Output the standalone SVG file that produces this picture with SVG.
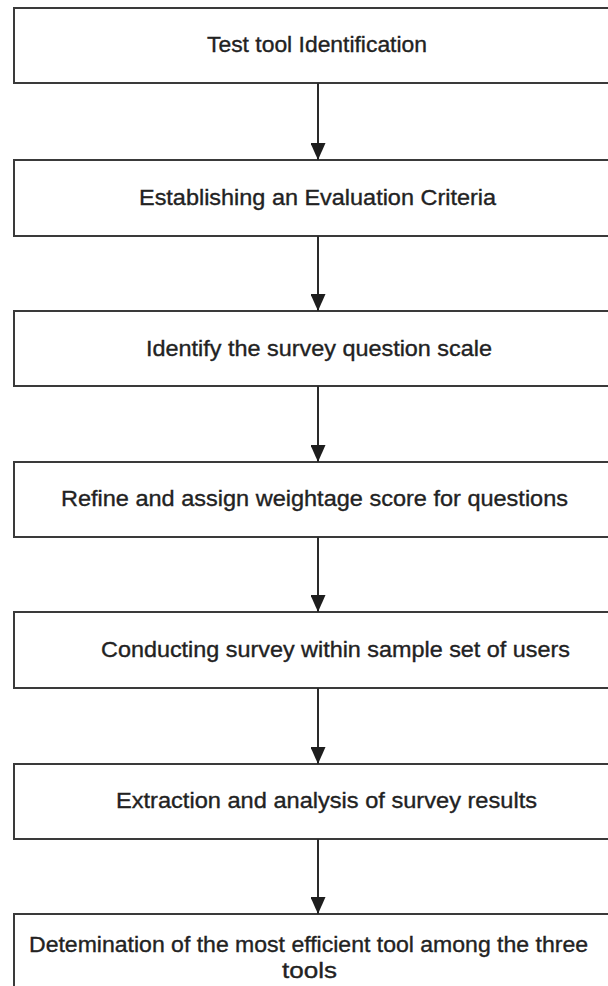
<svg xmlns="http://www.w3.org/2000/svg" width="608" height="986" viewBox="0 0 608 986">
  <style>
    .box { fill: #ffffff; stroke: #3a3a3a; stroke-width: 2; }
    .lbl { font-family: "Liberation Sans", Arial, sans-serif; font-size: 22px; fill: #222222; stroke: #222222; stroke-width: 0.35; }
    .conn { stroke: #2a2a2a; stroke-width: 2; fill: none; }
  </style>
  <defs>
    <marker id="arrow" markerUnits="userSpaceOnUse" markerWidth="17" markerHeight="15" viewBox="0 0 17 15" refX="17" refY="7.5" orient="auto">
      <path d="M0,0 L17,7.5 L0,15 Z" fill="#1e1e1e"/>
    </marker>
  </defs>
  <rect width="608" height="986" fill="#ffffff"/>

  <g id="node1">
    <rect class="box" x="14" y="8" width="620" height="75"/>
    <text class="lbl" x="207" y="52" textLength="220" lengthAdjust="spacingAndGlyphs">Test tool Identification</text>
  </g>
  <g id="node2">
    <rect class="box" x="14" y="160" width="620" height="76"/>
    <text class="lbl" x="139" y="205" textLength="357" lengthAdjust="spacingAndGlyphs">Establishing an Evaluation Criteria</text>
  </g>
  <g id="node3">
    <rect class="box" x="14" y="311" width="620" height="75"/>
    <text class="lbl" x="146" y="356" textLength="346" lengthAdjust="spacingAndGlyphs">Identify the survey question scale</text>
  </g>
  <g id="node4">
    <rect class="box" x="14" y="462" width="620" height="75"/>
    <text class="lbl" x="61" y="506" textLength="507" lengthAdjust="spacingAndGlyphs">Refine and assign weightage score for questions</text>
  </g>
  <g id="node5">
    <rect class="box" x="14" y="612" width="620" height="76"/>
    <text class="lbl" x="101" y="657" textLength="469" lengthAdjust="spacingAndGlyphs">Conducting survey within sample set of users</text>
  </g>
  <g id="node6">
    <rect class="box" x="14" y="764" width="620" height="75"/>
    <text class="lbl" x="116" y="808" textLength="421" lengthAdjust="spacingAndGlyphs">Extraction and analysis of survey results</text>
  </g>
  <g id="node7">
    <rect class="box" x="14" y="914" width="620" height="90"/>
    <text class="lbl" x="29" y="952" textLength="559" lengthAdjust="spacingAndGlyphs">Detemination of the most efficient tool among the three</text>
    <text class="lbl" x="282" y="978" textLength="55" lengthAdjust="spacingAndGlyphs">tools</text>
  </g>

  <g id="connectors">
    <line class="conn" x1="318" y1="83" x2="318" y2="160" marker-end="url(#arrow)"/>
    <line class="conn" x1="318" y1="236" x2="318" y2="311" marker-end="url(#arrow)"/>
    <line class="conn" x1="318" y1="386" x2="318" y2="462" marker-end="url(#arrow)"/>
    <line class="conn" x1="318" y1="537" x2="318" y2="612" marker-end="url(#arrow)"/>
    <line class="conn" x1="318" y1="688" x2="318" y2="764" marker-end="url(#arrow)"/>
    <line class="conn" x1="318" y1="839" x2="318" y2="914" marker-end="url(#arrow)"/>
  </g>
</svg>
